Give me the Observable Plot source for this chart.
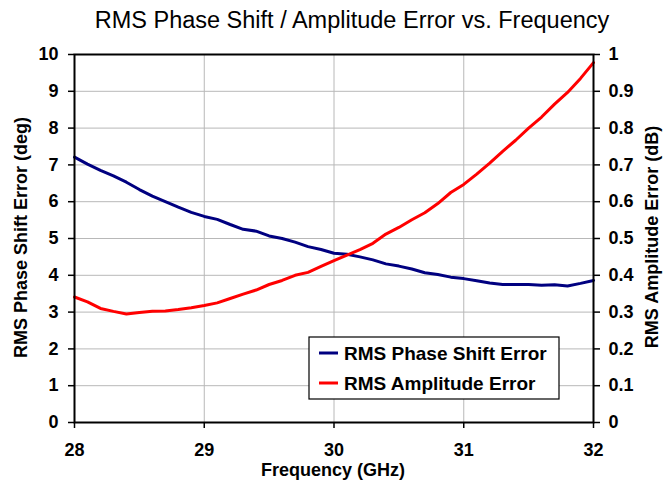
<!DOCTYPE html>
<html>
<head>
<meta charset="utf-8">
<script src="https://cdn.jsdelivr.net/npm/d3@7"></script>
<script src="https://cdn.jsdelivr.net/npm/@observablehq/plot@0.6"></script>
<style>
  body { margin: 0; background: #fff; font-family: "Liberation Sans", Arial, sans-serif; }
  #title { width: 664px; height: 40px; line-height: 40px; font-size: 23.5px; text-align: center; color: #000; padding-left: 40px; box-sizing: border-box; }
  svg { display: block; }
</style>
</head>
<body>
<div id="title">RMS Phase Shift / Amplitude Error vs. Frequency</div>
<div id="chart"></div>
<script>
const frequency = [28.0,28.1,28.2,28.3,28.4,28.5,28.6,28.7,28.8,28.9,29.0,29.1,29.2,29.3,29.4,29.5,29.6,29.7,29.8,29.9,30.0,30.1,30.2,30.3,30.4,30.5,30.6,30.7,30.8,30.9,31.0,31.1,31.2,31.3,31.4,31.5,31.6,31.7,31.8,31.9,32.0];
const phaseError = [7.21,7.02,6.85,6.70,6.53,6.33,6.15,6.00,5.85,5.71,5.60,5.52,5.38,5.25,5.20,5.07,5.00,4.90,4.78,4.70,4.60,4.57,4.50,4.42,4.31,4.25,4.17,4.07,4.02,3.95,3.91,3.85,3.79,3.75,3.75,3.75,3.73,3.74,3.71,3.78,3.86];
const amplitudeError = [0.341,0.328,0.310,0.302,0.295,0.299,0.302,0.303,0.307,0.312,0.318,0.325,0.337,0.349,0.360,0.375,0.386,0.400,0.408,0.424,0.440,0.455,0.470,0.487,0.512,0.530,0.551,0.570,0.595,0.625,0.647,0.675,0.705,0.737,0.767,0.800,0.830,0.865,0.897,0.935,0.978];
const xTicks = [28,29,30,31,32];
const phaseTicks = [0,1,2,3,4,5,6,7,8,9,10];
const ampTicks = [0,0.1,0.2,0.3,0.4,0.5,0.6,0.7,0.8,0.9,1];
const seriesNames = ["RMS Phase Shift Error","RMS Amplitude Error"];
const seriesColors = ["#000080","#ff0000"];

const phaseData = frequency.map((f,i) => ({f, v: phaseError[i]}));
// amplitude (0..1 dB) drawn on the same vertical scale as phase (0..10 deg)
const ampRatio = 10;
const ampData = frequency.map((f,i) => ({f, v: amplitudeError[i] * ampRatio}));

const W = 664, H = 449;
const plot = Plot.plot({
  width: W, height: H,
  marginTop: 14, marginBottom: 67, marginLeft: 74, marginRight: 71,
  style: {fontFamily: '"Liberation Sans", Arial, sans-serif', background: "#fff", color: "#000"},
  x: {domain: [28, 32]},
  y: {domain: [0, 10]},
  marks: [
    Plot.gridX(xTicks, {stroke: "#b8b8b8", strokeOpacity: 1, strokeWidth: 1}),
    Plot.gridY(phaseTicks, {stroke: "#b8b8b8", strokeOpacity: 1, strokeWidth: 1}),
    Plot.axisX({ticks: xTicks, tickSize: 6, tickPadding: 15, fontSize: 18, fontWeight: "bold", label: null, tickFormat: d => String(d), strokeWidth: 1.5}),
    Plot.axisY({ticks: phaseTicks, anchor: "left", tickSize: 6, tickPadding: 10, fontSize: 18, fontWeight: "bold", label: null, tickFormat: d => String(d), strokeWidth: 1.5}),
    Plot.axisY({ticks: ampTicks.map(t => t * ampRatio), anchor: "right", tickSize: 6, tickPadding: 9, fontSize: 18, fontWeight: "bold", label: null, tickFormat: d => String(+(d / ampRatio).toFixed(1)), strokeWidth: 1.5}),
    Plot.line(phaseData, {x: "f", y: "v", stroke: seriesColors[0], strokeWidth: 3}),
    Plot.line(ampData, {x: "f", y: "v", stroke: seriesColors[1], strokeWidth: 3}),
    Plot.frame({stroke: "#000", strokeWidth: 2})
  ]
});
document.getElementById("chart").appendChild(plot);

const svg = d3.select(plot);
const font = '"Liberation Sans", Arial, sans-serif';
// axis titles
svg.append("text").attr("transform", "translate(21,197.5) rotate(-90)").attr("dy", "0.35em")
  .attr("text-anchor", "middle").attr("font-size", 18).attr("font-weight", "bold").attr("font-family", font)
  .text("RMS Phase Shift Error (deg)");
svg.append("text").attr("transform", "translate(652,197) rotate(-90)").attr("dy", "0.35em")
  .attr("text-anchor", "middle").attr("font-size", 18).attr("font-weight", "bold").attr("font-family", font)
  .text("RMS Amplitude Error (dB)");
svg.append("text").attr("x", 333).attr("y", 436).attr("text-anchor", "middle")
  .attr("font-size", 18).attr("font-weight", "bold").attr("font-family", font)
  .text("Frequency (GHz)");

// legend
const lg = svg.append("g").attr("transform", "translate(309,297)");
lg.append("rect").attr("width", 250).attr("height", 62).attr("fill", "#fff").attr("stroke", "#000").attr("stroke-width", 1.2);
seriesNames.forEach((name, i) => {
  const y = 16 + i * 30;
  lg.append("line").attr("x1", 10).attr("x2", 29).attr("y1", y).attr("y2", y)
    .attr("stroke", seriesColors[i]).attr("stroke-width", 3);
  lg.append("text").attr("x", 35).attr("y", y).attr("dy", "0.36em").attr("text-anchor", "start")
    .attr("font-size", 19).attr("font-weight", "bold").attr("font-family", font).text(name);
});
</script>
</body>
</html>
